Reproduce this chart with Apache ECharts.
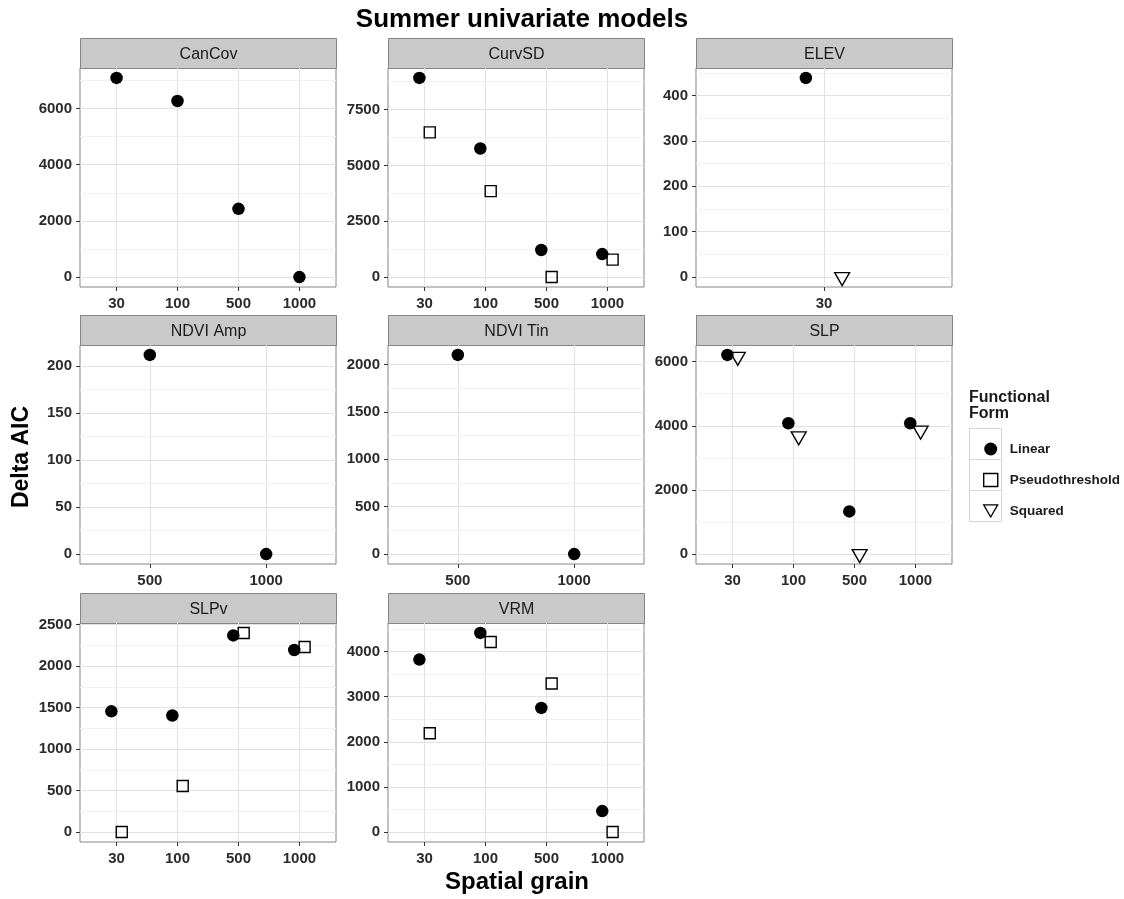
<!DOCTYPE html>
<html>
<head>
<meta charset="utf-8">
<title>Summer univariate models</title>
<script src="https://cdn.jsdelivr.net/npm/echarts@6/dist/echarts.min.js"></script>
<style>
  html, body { margin: 0; padding: 0; background: #ffffff; }
  #chart { width: 1124px; height: 899px; }
</style>
</head>
<body>
<div id="chart"></div>
<script>
// ---- data: delta AIC per variable, spatial grain and functional form ----
const FORMS = ['Linear', 'Pseudothreshold', 'Squared'];

const canCovGrain = ['30', '100', '500', '1000'];
const canCovLinear = [7090, 6270, 2430, 0];
const canCovTicks = [0, 2000, 4000, 6000];

const curvSDGrain = ['30', '100', '500', '1000'];
const curvSDLinear = [8920, 5760, 1210, 1030];
const curvSDPseudo = [6480, 3850, 0, 780];
const curvSDTicks = [0, 2500, 5000, 7500];

const elevGrain = ['30'];
const elevLinear = [439];
const elevSquared = [0];
const elevTicks = [0, 100, 200, 300, 400];

const ndviAmpGrain = ['500', '1000'];
const ndviAmpLinear = [212, 0];
const ndviAmpTicks = [0, 50, 100, 150, 200];

const ndviTinGrain = ['500', '1000'];
const ndviTinLinear = [2100, 0];
const ndviTinTicks = [0, 500, 1000, 1500, 2000];

const slpGrain = ['30', '100', '500', '1000'];
const slpLinear = [6210, 4080, 1330, 4080];
const slpSquared = [6150, 3670, 0, 3850];
const slpTicks = [0, 2000, 4000, 6000];

const slpvGrain = ['30', '100', '500', '1000'];
const slpvLinear = [1455, 1405, 2370, 2195];
const slpvPseudo = [0, 555, 2400, 2230];
const slpvTicks = [0, 500, 1000, 1500, 2000, 2500];

const vrmGrain = ['30', '100', '500', '1000'];
const vrmLinear = [3820, 4410, 2750, 465];
const vrmPseudo = [2190, 4210, 3290, 0];
const vrmTicks = [0, 1000, 2000, 3000, 4000];

const panels = [
  { name: 'CanCov',   grain: canCovGrain,  ticks: canCovTicks,  values: { Linear: canCovLinear } },
  { name: 'CurvSD',   grain: curvSDGrain,  ticks: curvSDTicks,  values: { Linear: curvSDLinear, Pseudothreshold: curvSDPseudo } },
  { name: 'ELEV',     grain: elevGrain,    ticks: elevTicks,    values: { Linear: elevLinear, Squared: elevSquared } },
  { name: 'NDVI Amp', grain: ndviAmpGrain, ticks: ndviAmpTicks, values: { Linear: ndviAmpLinear } },
  { name: 'NDVI Tin', grain: ndviTinGrain, ticks: ndviTinTicks, values: { Linear: ndviTinLinear } },
  { name: 'SLP',      grain: slpGrain,     ticks: slpTicks,     values: { Linear: slpLinear, Squared: slpSquared } },
  { name: 'SLPv',     grain: slpvGrain,    ticks: slpvTicks,    values: { Linear: slpvLinear, Pseudothreshold: slpvPseudo } },
  { name: 'VRM',      grain: vrmGrain,     ticks: vrmTicks,     values: { Linear: vrmLinear, Pseudothreshold: vrmPseudo } }
];

// ---- layout of the 3 x 3 facet grid ----
const FONT = '"Liberation Sans", Arial, sans-serif';
const colLeft = [80, 388, 696];
const rowTop = [68, 345, 623];
const panelW = 256;
const panelH = 219;
const stripH = 30;
const DODGE = 0.17;         // width shared by overlapping forms at one grain
const EXPAND = 0.05;        // continuous axis padding (fraction of data range)
const DISCRETE_PAD = 0.6;   // discrete axis padding, in category units

const DOWN_TRIANGLE = 'path://M0,0 L20,0 L10,17.3 Z';

const symbolStyle = {
  Linear: { symbol: 'circle', symbolSize: 12.5, symbolOffset: [0, 0],
            itemStyle: { color: '#000000', borderWidth: 0, opacity: 1 } },
  Pseudothreshold: { symbol: 'rect', symbolSize: 11, symbolOffset: [0, 0],
            itemStyle: { color: 'rgba(255,255,255,0)', borderColor: '#000000', borderWidth: 1.4, opacity: 1 } },
  Squared: { symbol: DOWN_TRIANGLE, symbolSize: [15, 13], symbolOffset: [0, 2],
            itemStyle: { color: 'rgba(255,255,255,0)', borderColor: '#000000', borderWidth: 1.3, opacity: 1 } }
};

const grids = [], xAxes = [], yAxes = [], series = [], graphics = [];

panels.forEach((p, i) => {
  const col = i % 3, row = Math.floor(i / 3);
  const left = colLeft[col], top = rowTop[row];

  grids.push({
    left: left, top: top, width: panelW, height: panelH,
    show: true, backgroundColor: '#ffffff', borderColor: '#858585', borderWidth: 1
  });

  // y range: data extent with 5% padding each side
  const all = [];
  FORMS.forEach(f => { (p.values[f] || []).forEach(v => { if (v != null) all.push(v); }); });
  const lo = Math.min.apply(null, all), hi = Math.max.apply(null, all);
  const pad = (hi - lo) * EXPAND;
  const yMin = lo - pad, yMax = hi + pad;

  // minor breaks halfway between major breaks
  const step = p.ticks[1] - p.ticks[0];
  const minors = [];
  for (let v = p.ticks[0] - step / 2; v <= p.ticks[p.ticks.length - 1] + step; v += step) {
    if (v >= yMin && v <= yMax) minors.push(v);
  }

  const nCat = p.grain.length;
  const catIdx = p.grain.map((g, j) => j);

  xAxes.push({
    type: 'value', gridIndex: i,
    min: -DISCRETE_PAD, max: nCat - 1 + DISCRETE_PAD,
    axisLine: { show: false, onZero: false },
    axisTick: { show: true, customValues: catIdx, length: 4, lineStyle: { color: '#333333', width: 1 } },
    axisLabel: {
      show: true, customValues: catIdx, margin: 9,
      formatter: v => p.grain[Math.round(v)],
      fontFamily: FONT, fontWeight: 'bold', fontSize: 15, color: '#2b2b2b'
    },
    splitLine: { show: true, lineStyle: { color: '#e2e2e2', width: 1 } }
  });

  // major axis
  yAxes.push({
    type: 'value', gridIndex: i, min: yMin, max: yMax,
    axisLine: { show: false, onZero: false },
    axisTick: { show: true, customValues: p.ticks, length: 4, lineStyle: { color: '#333333', width: 1 } },
    axisLabel: {
      show: true, customValues: p.ticks, margin: 8,
      formatter: v => String(Math.round(v)),
      fontFamily: FONT, fontWeight: 'bold', fontSize: 15, color: '#2b2b2b'
    },
    splitLine: { show: true, lineStyle: { color: '#e2e2e2', width: 1 } }
  });
  // minor grid lines
  yAxes.push({
    type: 'value', gridIndex: i, min: yMin, max: yMax,
    axisLine: { show: false, onZero: false },
    axisTick: { show: false, customValues: minors },
    axisLabel: { show: false, customValues: minors },
    splitLine: { show: true, lineStyle: { color: '#f2f2f2', width: 1 } }
  });

  // one scatter series per functional form, dodged where forms share a grain
  FORMS.forEach(f => {
    const vals = p.values[f];
    if (!vals) return;
    const data = [];
    vals.forEach((v, j) => {
      if (v == null) return;
      const present = FORMS.filter(g => p.values[g] && p.values[g][j] != null);
      const k = present.indexOf(f);
      const off = present.length > 1 ? (k / (present.length - 1) - 0.5) * DODGE : 0;
      data.push([j + off, v]);
    });
    const st = symbolStyle[f];
    series.push({
      type: 'scatter', name: f, xAxisIndex: i, yAxisIndex: 2 * i,
      symbol: st.symbol, symbolSize: st.symbolSize,
      symbolOffset: st.symbolOffset, itemStyle: st.itemStyle,
      emphasis: { disabled: true }, clip: false, z: 3,
      data: data
    });
  });

  // facet strip
  graphics.push({
    type: 'group', left: left, top: top - stripH, silent: true,
    children: [
      { type: 'rect', shape: { x: 0, y: 0, width: panelW, height: stripH },
        style: { fill: '#c9c9c9', stroke: '#858585', lineWidth: 1 } },
      { type: 'text', x: panelW / 2, y: stripH / 2 + 1,
        style: { text: p.name, fill: '#1a1a1a', font: '16px ' + FONT, align: 'center', verticalAlign: 'middle' } }
    ]
  });
});

// legend key boxes and title
const keyX = 969, keyTop = 428, keyW = 32, keyH = 31;
FORMS.forEach((f, k) => {
  graphics.push({
    type: 'rect', silent: true, z: 0,
    shape: { x: keyX + 0.5, y: keyTop + k * keyH + 0.5, width: keyW, height: keyH },
    style: { fill: '#ffffff', stroke: '#d6d6d6', lineWidth: 1 }
  });
});
graphics.push({
  type: 'text', silent: true, x: keyX, y: 390,
  style: { text: 'Functional\nForm', fill: '#1a1a1a', font: 'bold 16px ' + FONT, lineHeight: 16, align: 'left', verticalAlign: 'top' }
});

// axis titles
graphics.push({
  type: 'text', silent: true, x: 22, y: 457, rotation: Math.PI / 2,
  style: { text: 'Delta AIC', fill: '#000000', font: 'bold 23px ' + FONT, align: 'center', verticalAlign: 'middle' }
});
graphics.push({
  type: 'text', silent: true, x: 517, y: 882,
  style: { text: 'Spatial grain', fill: '#000000', font: 'bold 24px ' + FONT, align: 'center', verticalAlign: 'middle' }
});

const chart = echarts.init(document.getElementById('chart'), null, { renderer: 'canvas' });
chart.setOption({
  backgroundColor: '#ffffff',
  animation: false,
  title: {
    text: 'Summer univariate models', left: 517, top: 2, textAlign: 'center',
    textStyle: { fontFamily: FONT, fontWeight: 'bold', fontSize: 26, color: '#000000' }
  },
  legend: {
    data: [
      { name: 'Linear', icon: 'circle', itemStyle: { color: '#000000', borderWidth: 0 } },
      { name: 'Pseudothreshold', icon: 'rect', itemStyle: { color: 'rgba(255,255,255,0)', borderColor: '#000000', borderWidth: 1.4 } },
      { name: 'Squared', icon: DOWN_TRIANGLE, itemStyle: { color: 'rgba(255,255,255,0)', borderColor: '#000000', borderWidth: 1.3 } }
    ],
    orient: 'vertical', left: 978, top: 436,
    itemWidth: 14, itemHeight: 13, itemGap: 15, selectedMode: false,
    textStyle: { fontFamily: FONT, fontWeight: 'bold', fontSize: 13.5, color: '#1a1a1a', lineHeight: 16, padding: [0, 0, 0, 7] }
  },
  grid: grids,
  xAxis: xAxes,
  yAxis: yAxes,
  series: series,
  graphic: { elements: graphics }
});
</script>
</body>
</html>
